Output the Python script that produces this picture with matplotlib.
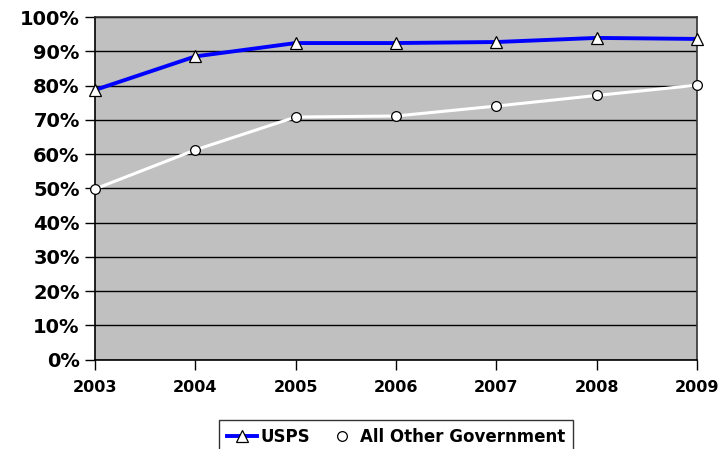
import numpy as np
import matplotlib.pyplot as plt
from matplotlib.ticker import FuncFormatter

years = [2003, 2004, 2005, 2006, 2007, 2008, 2009]
usps = [78.7, 88.5, 92.4, 92.4, 92.7, 93.9, 93.6]
other_gov = [49.8, 61.2, 70.8, 71.1, 74.0, 77.1, 80.1]

plt.rcParams['font.family'] = 'DejaVu Sans'
plt.rcParams['font.weight'] = 'bold'

fig = plt.figure(figsize=(7.22, 4.49), dpi=100)
ax = fig.add_axes([0.1316, 0.1993, 0.8338, 0.7628])
ax.set_facecolor('#c0c0c0')

# horizontal gridlines every 10%
ax.set_ylim(0, 100)
ax.set_yticks(np.arange(0, 101, 10))
ax.yaxis.set_major_formatter(FuncFormatter(lambda v, p: '%d%%' % v))
ax.yaxis.grid(True, color='black', linewidth=1)
ax.set_axisbelow(True)

ax.set_xlim(years[0], years[-1])
ax.set_xticks(years)

ax.plot(years, usps, color='#0000ff', linewidth=2.8, marker='^', markersize=8,
        markerfacecolor='white', markeredgecolor='black', markeredgewidth=0.9,
        label='USPS', clip_on=False, zorder=4)
ax.plot(years, other_gov, color='white', linewidth=2.2, marker='o', markersize=7,
        markerfacecolor='white', markeredgecolor='black', markeredgewidth=0.9,
        label='All Other Government', clip_on=False, zorder=3)

for side in ['left', 'bottom']:
    ax.spines[side].set_color('black')
    ax.spines[side].set_linewidth(1.2)
for side in ['top', 'right']:
    ax.spines[side].set_color('#333333')
    ax.spines[side].set_linewidth(1.2)

ax.tick_params(axis='y', direction='out', length=7, width=1, labelsize=14, pad=4)
ax.tick_params(axis='x', direction='out', length=7, width=1, labelsize=11.5, pad=8)

leg = ax.legend(loc='upper center', bbox_to_anchor=(0.5, -0.178), ncol=2,
                frameon=True, fancybox=False, edgecolor='black', fontsize=12,
                handlelength=1.8, handletextpad=0.2, columnspacing=1.0,
                borderpad=0.45, borderaxespad=0)
leg.get_frame().set_linewidth(1)

fig.savefig('out.png', dpi=100)
